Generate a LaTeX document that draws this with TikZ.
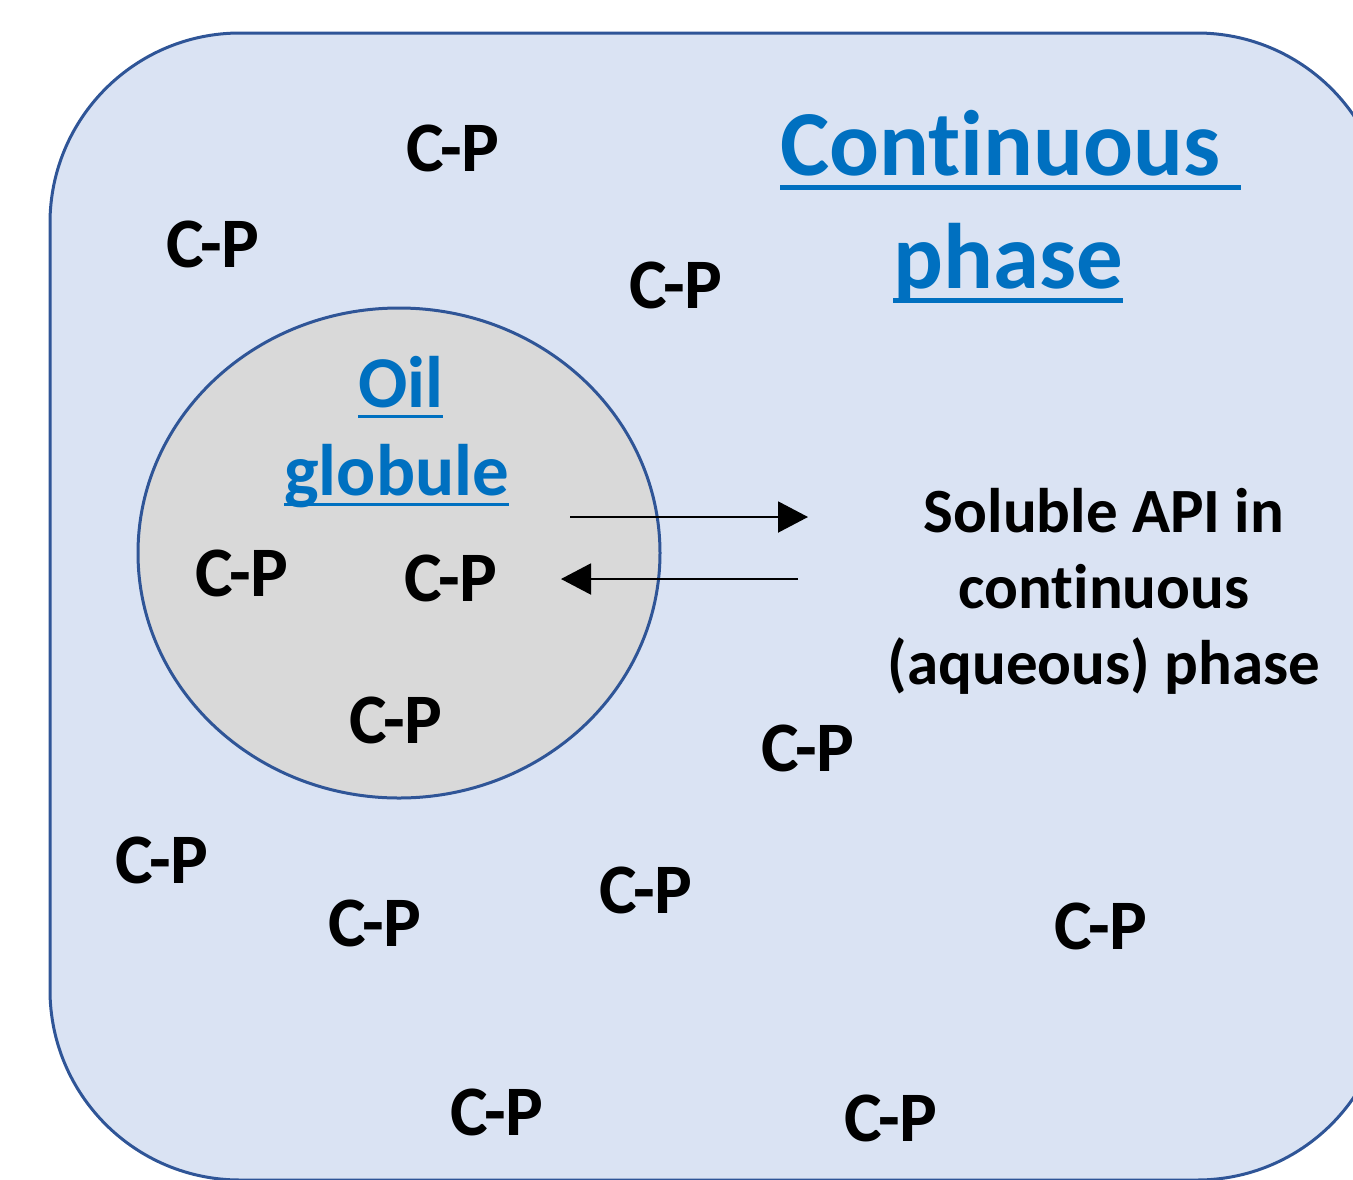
\documentclass[tikz,border=0pt]{standalone}
\usepackage{fontspec}
\setmainfont{Carlito}[Ligatures={NoCommon,NoRare,NoContextual}]
\usetikzlibrary{arrows.meta,shapes.geometric}
\definecolor{bgfill}{HTML}{DAE3F3}
\definecolor{edgeblue}{HTML}{2F5597}
\definecolor{oilfill}{HTML}{D9D9D9}
\definecolor{ttlblue}{HTML}{0070C0}
\newsavebox\ulbox
\newcommand{\myul}[1]{\sbox\ulbox{#1}\rlap{\usebox\ulbox}\rule[-0.157em]{\wd\ulbox}{0.054em}}
\begin{document}
\begin{tikzpicture}[x=1pt,y=-1pt,
  cp/.style={font=\fontsize{71}{85}\selectfont\bfseries, anchor=base, inner sep=0pt},
  bigtitle/.style={font=\fontsize{93}{113}\selectfont\bfseries, text=ttlblue, anchor=base west, inner sep=0pt},
  oiltitle/.style={font=\fontsize{73}{88}\selectfont\bfseries, text=ttlblue, anchor=base west, inner sep=0pt},
  apitext/.style={font=\fontsize{63}{76}\selectfont\bfseries, align=center, inner sep=0pt},
  flow/.style={line width=2pt, -{Triangle[length=30pt,width=31pt]}}]
\useasboundingbox (0,0) rectangle (1353,1179);
\clip (0,0) rectangle (1353,1179);
\node[draw=edgeblue, line width=3pt, fill=bgfill, rounded corners=190pt,
  minimum width=1337pt, minimum height=1147pt, inner sep=0pt] (phasebox) at (718.5,606.5) {};
\node[ellipse, draw=edgeblue, line width=3pt, fill=oilfill,
  minimum width=522pt, minimum height=490pt, inner sep=0pt] (globule) at (399,553) {};
% titles
\node[bigtitle] (cont) at (780,175) {\myul{Cont\kern0pt inuous\ }};
\node[bigtitle] (phs) at (893,288) {\myul{phase}};
\node[oiltitle] (oil) at (358,407) {\myul{Oil}};
\node[oiltitle] (glob) at (284,495) {\myul{globule}};
% API text (base anchor = last line)
\node[apitext, anchor=base] (api) at (1104,684) {Soluble API in\\cont\kern0pt inuous\\(aqueous) phase};
% arrows
\coordinate (outS) at (570,517);
\coordinate (outE) at (808,517);
\coordinate (inS) at (798,579);
\coordinate (inE) at (561,579);
\draw[flow] (outS) -- (outE);
\draw[flow] (inS) -- (inE);
% C-P labels
\node[cp] (cp1) at (453,171) {C-P};
\node[cp] (cp2) at (213,267) {C-P};
\node[cp] (cp3) at (676,308) {C-P};
\node[cp] (cp4) at (242,596) {C-P};
\node[cp] (cp5) at (451,601) {C-P};
\node[cp] (cp6) at (396,743) {C-P};
\node[cp] (cp7) at (808,771) {C-P};
\node[cp] (cp8) at (162,883) {C-P};
\node[cp] (cp9) at (375,946) {C-P};
\node[cp] (cp10) at (646,913) {C-P};
\node[cp] (cp11) at (1101,949) {C-P};
\node[cp] (cp12) at (497,1135) {C-P};
\node[cp] (cp13) at (891,1141) {C-P};
\end{tikzpicture}
\end{document}
